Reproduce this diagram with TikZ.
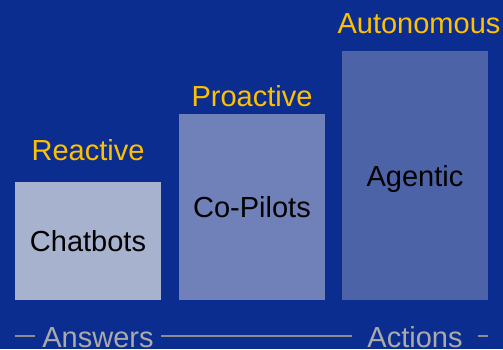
\documentclass[tikz,border=0pt]{standalone}
\usepackage{fontspec}
\setmainfont{Liberation Sans}
\usepackage{xcolor}
\usepackage{tikz}
\usetikzlibrary{positioning, calc}
\definecolor{slidebg}{RGB}{11, 45, 143}
\definecolor{stageone}{RGB}{167, 178, 206}
\definecolor{stagetwo}{RGB}{112, 128, 184}
\definecolor{stagethree}{RGB}{77, 99, 168}
\definecolor{labelgold}{RGB}{255, 192, 0}
\definecolor{axisgrey}{RGB}{140, 140, 140}
\definecolor{axistext}{RGB}{170, 170, 170}

\begin{document}
\begin{tikzpicture}[
    x=1pt, y=1pt,
    stagebox/.style={minimum width=146pt, inner sep=0pt, text height=21pt, text depth=0pt, font=\fontsize{29}{34}\selectfont, text=black},
    stagelabel/.style={anchor=base, inner sep=0pt, font=\fontsize{29}{34}\selectfont, text=labelgold},
    axislabel/.style={anchor=base, minimum width=126pt, inner sep=0pt, font=\fontsize{29}{34}\selectfont, text=axistext},
    axisline/.style={draw=axisgrey, line width=2pt}
]
    % Background
    \fill[slidebg] (0, 0) rectangle (503, 349);
    \useasboundingbox (0, 0) rectangle (503, 349);

    % Stages
    \node[stagebox, fill=stageone, minimum height=118pt] (chat) at (88, 108) {Chatbots};
    \node[stagebox, fill=stagetwo, minimum height=186pt] (copilot) at (252, 142) {Co-Pilots};
    \node[stagebox, fill=stagethree, minimum height=249pt] (agent) at (415, 173.5) {Agentic};

    % Stage labels
    \node[stagelabel] (reactive) at (88, 189) {Reactive};
    \node[stagelabel] (proactive) at (252, 243) {Proactive};
    \node[stagelabel] (autonomous) at (419, 316) {Autonomous};

    % Axis
    \node[axislabel] (answers) at (98, 2) {Answers};
    \node[axislabel] (actions) at (415, 2) {Actions};
    \coordinate (axisL) at (15, 13);
    \coordinate (axisR) at (488, 13);

    \draw[axisline] (axisL) -- (axisL -| answers.west);
    \draw[axisline] (axisL -| answers.east) -- (axisL -| actions.west);
    \draw[axisline] (axisL -| actions.east) -- (axisR);

\end{tikzpicture}
\end{document}
